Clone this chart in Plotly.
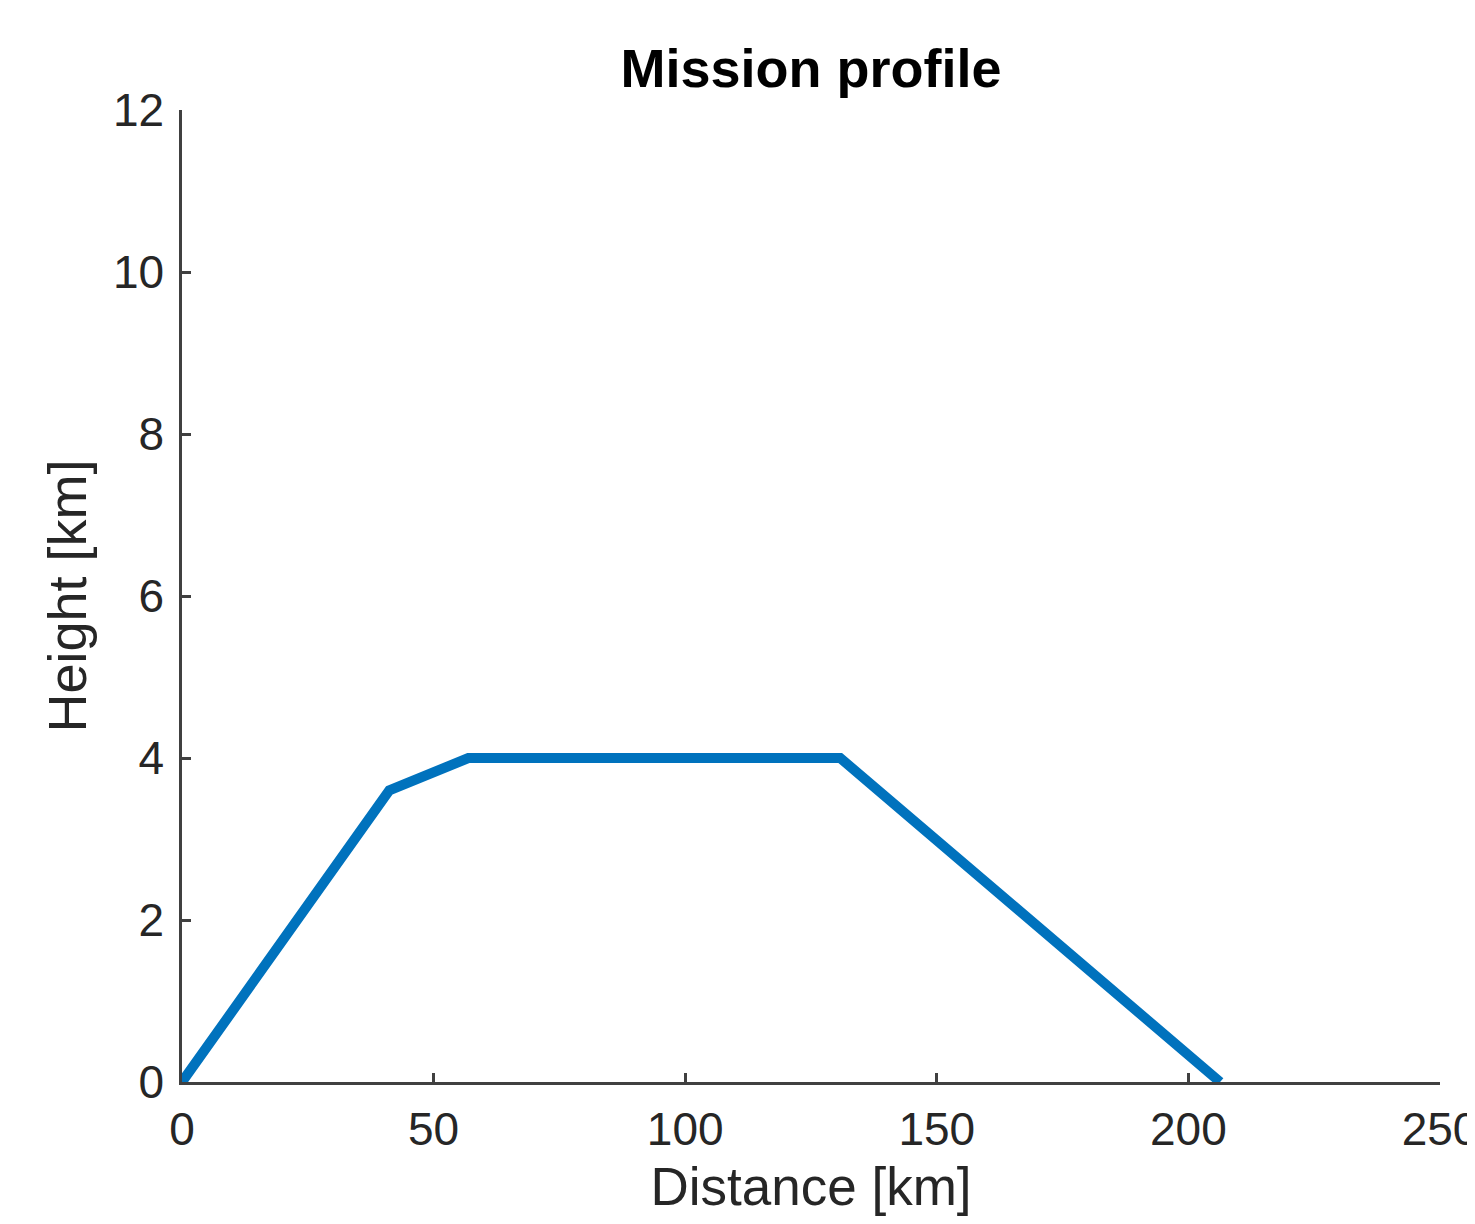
import plotly.graph_objects as go

distance_km = [0, 41.2, 56.9, 130.8, 206.3]
height_km = [0, 3.6, 4.0, 4.0, 0]

x_ticks = [0, 50, 100, 150, 200, 250]
y_ticks = [0, 2, 4, 6, 8, 10, 12]

axis_color = "#404040"
font_family = "Liberation Sans, Arial, Helvetica, sans-serif"

fig = go.Figure()
fig.add_trace(go.Scatter(
    x=distance_km, y=height_km, mode="lines",
    line=dict(color="#0072BD", width=10),
    showlegend=False,
))

fig.update_layout(
    width=1475, height=1224,
    margin=dict(l=174, r=43, t=102, b=150),
    plot_bgcolor="white", paper_bgcolor="white",
    font=dict(family=font_family, color="#262626"),
    title=dict(
        text="<b>Mission profile</b>",
        font=dict(size=54, color="#000000", family=font_family),
        x=0.5, xref="paper", xanchor="center",
        y=1 - 60 / 1224, yref="container", yanchor="middle",
    ),
)

fig.update_xaxes(
    range=[0, 250], tickvals=x_ticks, ticktext=[str(v) for v in x_ticks],
    showgrid=False, zeroline=False,
    showline=True, linecolor=axis_color, linewidth=2.5,
    ticks="inside", ticklen=9, tickwidth=2.5, tickcolor=axis_color,
    tickfont=dict(size=46, color="#262626"),
    ticklabelstandoff=5, ticklabeloverflow="allow",
    title=dict(text="Distance [km]", font=dict(size=53, color="#262626"), standoff=14),
    automargin=False,
)
fig.update_yaxes(
    range=[0, 12], tickvals=y_ticks, ticktext=[str(v) for v in y_ticks],
    showgrid=False, zeroline=False,
    showline=True, linecolor=axis_color, linewidth=2.5,
    ticks="inside", ticklen=9, tickwidth=2.5, tickcolor=axis_color,
    tickfont=dict(size=46, color="#262626"),
    ticklabelstandoff=6, ticklabeloverflow="allow",
    title=dict(text="Height [km]", font=dict(size=54, color="#262626"), standoff=9),
    automargin=False,
)

fig.write_html("out.html")
